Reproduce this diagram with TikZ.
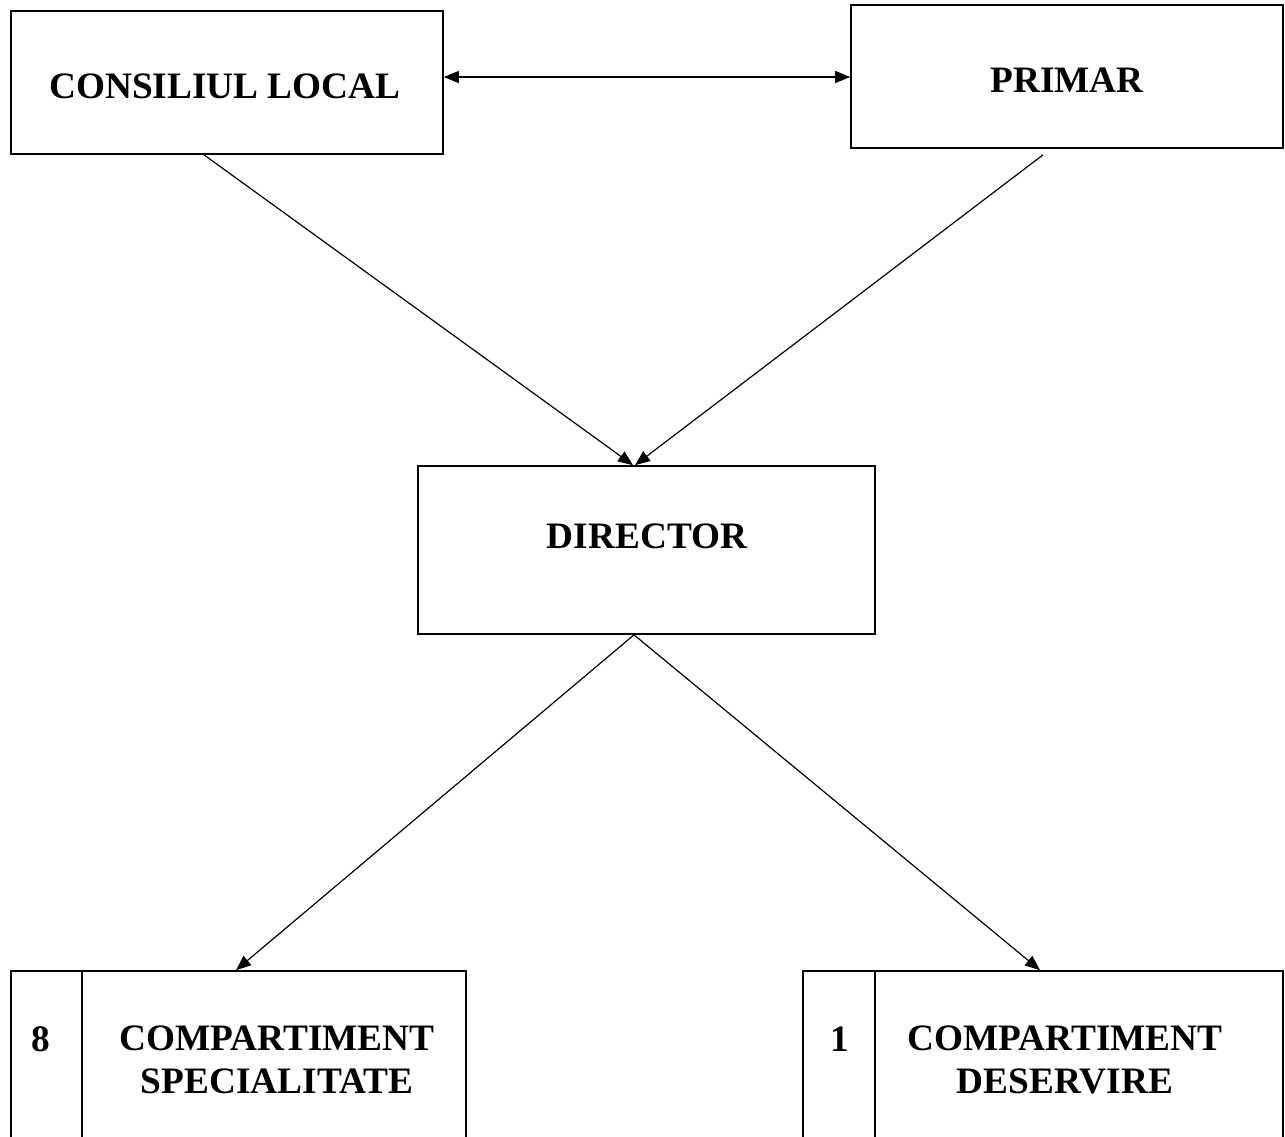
\documentclass[tikz,border=0pt]{standalone}
\usepackage{fontspec}
\setmainfont{Liberation Serif}
\usetikzlibrary{arrows.meta}
\begin{document}
\begin{tikzpicture}[x=1pt,y=-1pt,
  box/.style={draw,line width=1.7pt,rectangle,inner sep=0pt},
  lbl/.style={font=\fontsize{37.3}{43}\selectfont\bfseries,align=center,inner sep=0pt},
  conn/.style={line width=1.2pt,-{Triangle[length=15pt,width=12pt]}},
  dconn/.style={line width=1.2pt,{Triangle[length=15pt,width=12pt]}-{Triangle[length=15pt,width=12pt]}}]
\useasboundingbox (0,0) rectangle (1285,1136);
\fill[white] (0,0) rectangle (1285,1136);
\clip (0,0) rectangle (1285,1136);
% top boxes
\node[box,minimum width=432pt,minimum height=143pt] (cl) at (227,82.5) {};
\node[lbl] (cltext) at (225,86) {CONSILIUL LOCAL};
\node[box,minimum width=432pt,minimum height=143pt] (pr) at (1067,76.5) {};
\node[lbl] (prtext) at (1067,80) {PRIMAR};
% director
\node[box,minimum width=457pt,minimum height=168pt] (dir) at (646.5,550) {};
\node[lbl] (dirtext) at (647,536) {DIRECTOR};
% bottom boxes
\node[box,minimum width=455pt,minimum height=240pt] (spec) at (238.5,1091) {};
\draw[line width=1.7pt] (82,971) -- (82,1211);
\node[lbl] (specnum) at (41,1039) {8};
\node[lbl] (spectext) at (277,1060) {COMPARTIMENT\\SPECIALITATE};
\node[box,minimum width=480pt,minimum height=240pt] (des) at (1043,1091) {};
\draw[line width=1.7pt] (875,971) -- (875,1211);
\node[lbl] (desnum) at (840,1039) {1};
\node[lbl] (destext) at (1065,1060) {COMPARTIMENT\\DESERVIRE};
% connectors
\draw[dconn] (cl.east |- 0,77) -- (pr.west |- 0,77);
\draw[conn] ([xshift=-23pt]cl.south) -- ([xshift=-13.5pt]dir.north);
\draw[conn] ([xshift=-24pt,yshift=-6pt]pr.south) -- ([xshift=-11.5pt]dir.north);
\coordinate (dsplit) at ([xshift=-12.5pt]dir.south);
\draw[conn] (dsplit) -- ([xshift=-2.5pt]spec.north);
\draw[conn] (dsplit) -- ([xshift=-3pt]des.north);
\end{tikzpicture}
\end{document}
